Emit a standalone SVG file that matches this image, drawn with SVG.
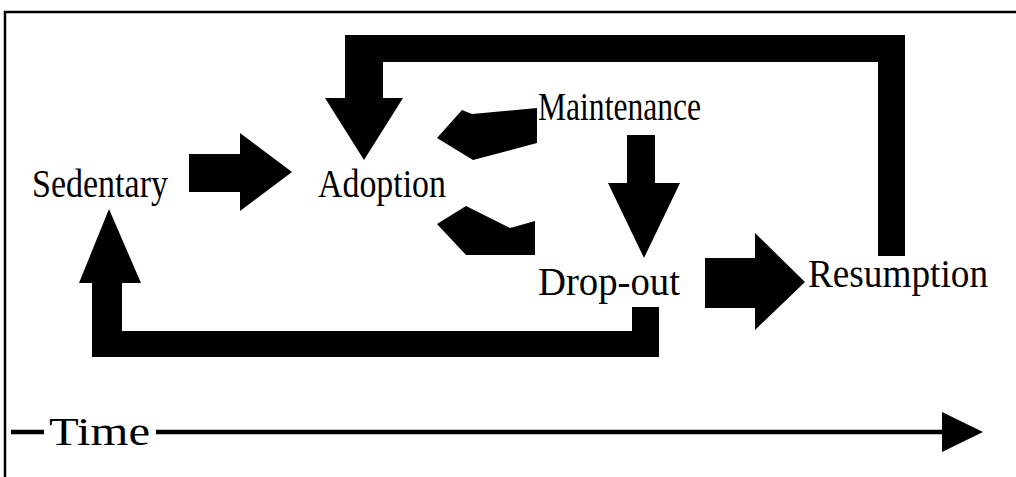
<svg xmlns="http://www.w3.org/2000/svg" width="1016" height="477" viewBox="0 0 1016 477">
  <style>
    .frame { fill: none; stroke: #000; stroke-width: 2.5; }
    .block { fill: #000; stroke: none; }
    .label { font-family: "Liberation Serif", "Times New Roman", serif; font-size: 40px; fill: #000; }
    .axis { stroke: #000; stroke-width: 4.5; fill: none; }
  </style>
  <rect width="1016" height="477" fill="#fff"/>

  <!-- outer frame: top and left edges -->
  <path class="frame" d="M1016,12 H5 V477"/>

  <!-- stage nodes -->
  <g id="sedentary"><text class="label" x="32" y="197" textLength="136" lengthAdjust="spacingAndGlyphs">Sedentary</text></g>
  <g id="adoption"><text class="label" x="318" y="197" textLength="128" lengthAdjust="spacingAndGlyphs">Adoption</text></g>
  <g id="maintenance"><text class="label" x="538" y="120" textLength="163" lengthAdjust="spacingAndGlyphs">Maintenance</text></g>
  <g id="dropout"><text class="label" x="538" y="295" textLength="142" lengthAdjust="spacingAndGlyphs">Drop-out</text></g>
  <g id="resumption"><text class="label" x="808" y="287" textLength="180" lengthAdjust="spacingAndGlyphs">Resumption</text></g>

  <!-- block arrows between stages -->
  <g id="connectors">
    <!-- Sedentary to Adoption -->
    <polygon class="block" points="189,154 240,154 240,133 292,172 240,211 240,192 189,192"/>
    <!-- Adoption / Maintenance -->
    <polygon class="block" points="437,138 462,110 472,114 537,108 537,143 473,160"/>
    <!-- Adoption / Drop-out -->
    <polygon class="block" points="437,224 466,206 510,228 535,221 535,255 466,255"/>
    <!-- Maintenance to Drop-out -->
    <polygon class="block" points="627,135 655,135 655,183 680,183 644,258 608,183 627,183"/>
    <!-- Drop-out to Resumption -->
    <polygon class="block" points="705,258 755,258 755,233 805,282 755,330 755,308 705,308"/>
    <!-- Resumption back to Adoption -->
    <polygon class="block" points="905,35 905,256 878,256 878,62 383,62 383,98 403,98 364,160 325,98 345,98 345,35"/>
    <!-- Drop-out back to Sedentary -->
    <polygon class="block" points="632,307 659,307 659,357 92,357 92,283 79,283 109,209 141,283 122,283 122,331 632,331"/>
  </g>

  <!-- time axis -->
  <g id="time-axis">
    <line class="axis" x1="11" y1="432" x2="44" y2="432"/>
    <text class="label" x="49" y="445" textLength="101" lengthAdjust="spacingAndGlyphs">Time</text>
    <line class="axis" x1="156" y1="432" x2="946" y2="432"/>
    <polygon class="block" points="942,412 983,432 942,452"/>
  </g>
</svg>
